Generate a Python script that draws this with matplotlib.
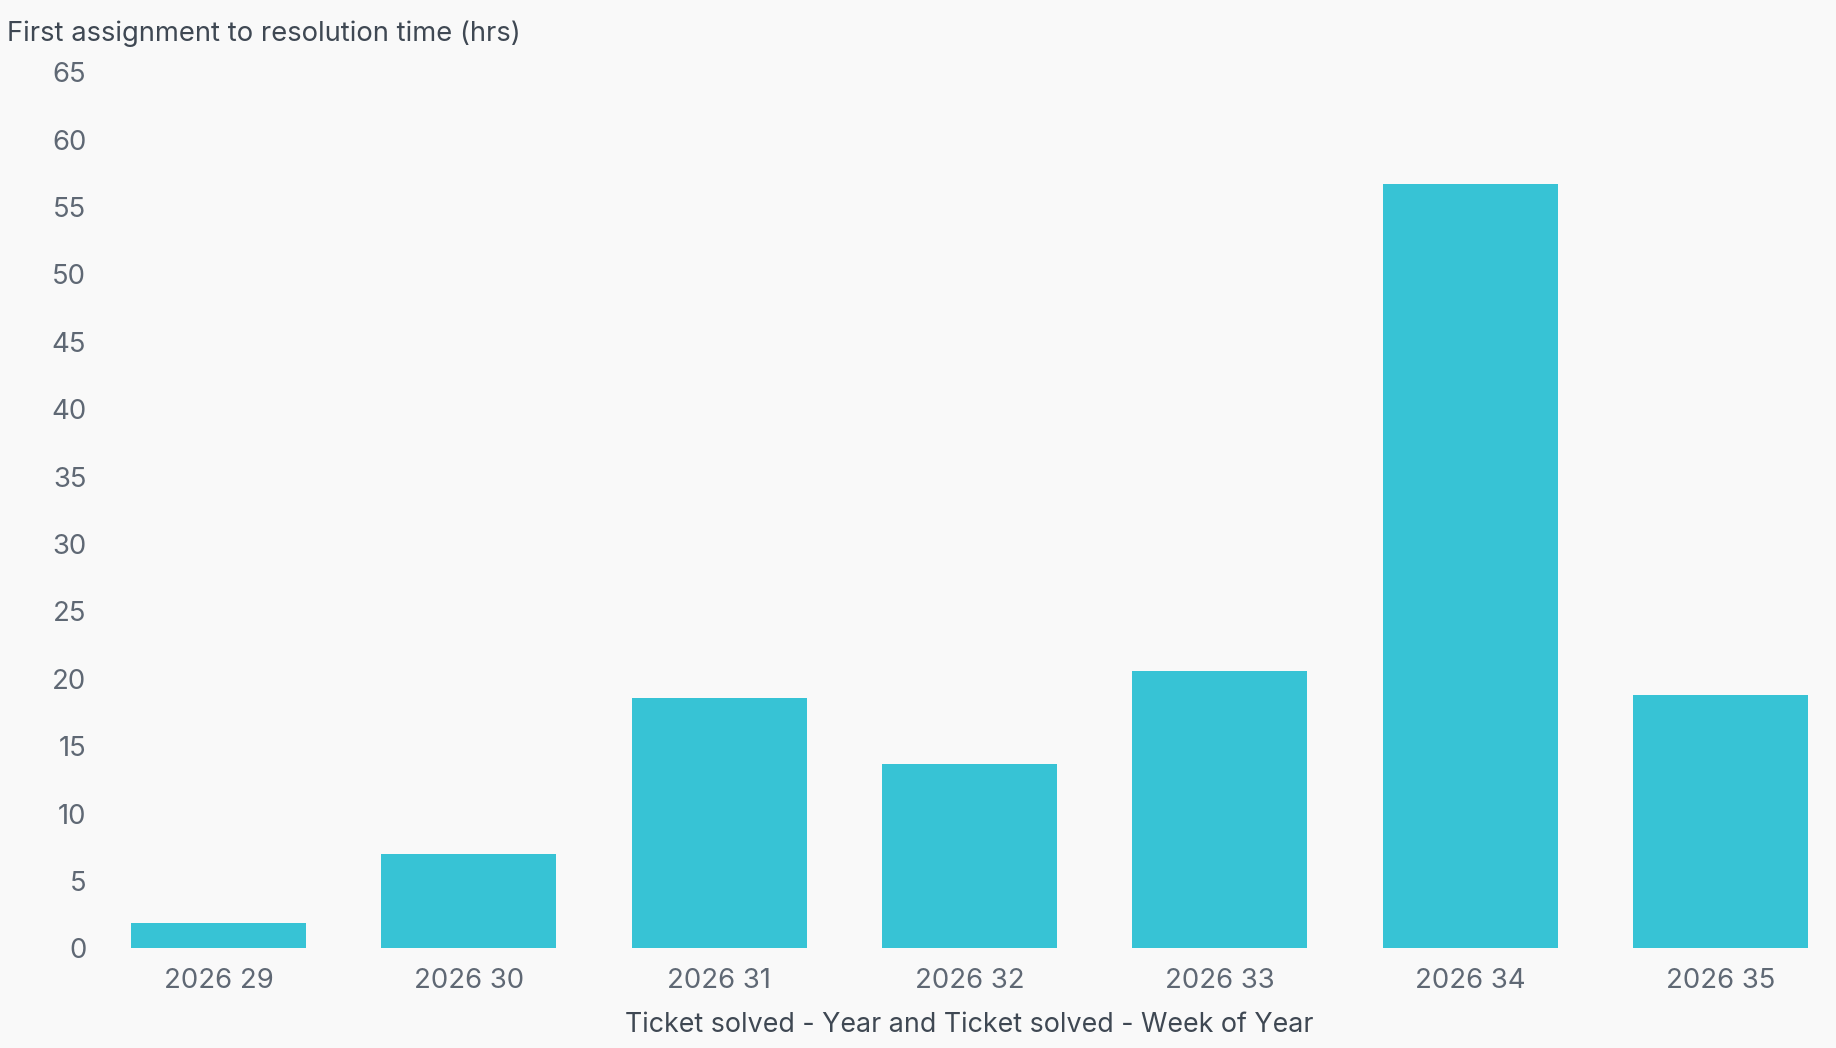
import matplotlib.pyplot as plt

weeks = ["2026 29", "2026 30", "2026 31", "2026 32", "2026 33", "2026 34", "2026 35"]
hours = [1.9, 7.0, 18.6, 13.7, 20.6, 56.7, 18.8]
y_ticks = [0, 5, 10, 15, 20, 25, 30, 35, 40, 45, 50, 55, 60, 65]

bg = "#f9f9f9"
bar_color = "#37c3d5"
tick_color = "#5f6874"
label_color = "#3f4853"

plt.rcParams["font.family"] = ["Inter", "DejaVu Sans"]

fig = plt.figure(figsize=(18.36, 10.48), dpi=100, facecolor=bg)
# axes runs a bit past the right edge so the x label sits under the middle bar
ax = fig.add_axes([0.0508, 0.095, 0.9545, 0.836], facecolor=bg)

x = list(range(len(weeks)))
ax.bar(x, hours, width=0.70, color=bar_color)

ax.set_xlim(-0.5, 6.5)
ax.set_ylim(0, 65)
ax.set_yticks(y_ticks)
ax.set_xticks(x)
ax.set_xticklabels(weeks)

for s in ax.spines.values():
    s.set_visible(False)
ax.tick_params(axis="both", length=0, labelsize=19.8, colors=tick_color)
ax.tick_params(axis="x", pad=14)
ax.tick_params(axis="y", pad=5)

ax.set_xlabel("Ticket solved - Year and Ticket solved - Week of Year",
              fontsize=19.3, color=label_color, labelpad=13)
fig.text(0.004, 0.968, "First assignment to resolution time (hrs)",
         fontsize=19.7, color=label_color, ha="left", va="center")

fig.savefig("out.png", dpi=100, facecolor=bg)
